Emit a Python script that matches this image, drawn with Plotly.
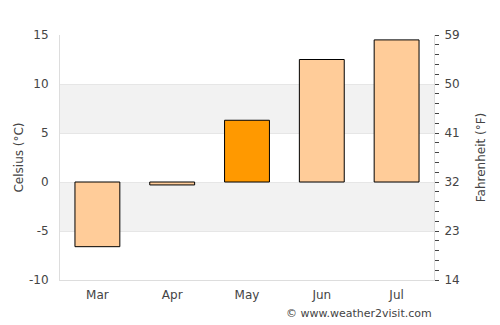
import plotly.graph_objects as go

months = ["Mar", "Apr", "May", "Jun", "Jul"]
celsius = [-6.6, -0.3, 6.3, 12.5, 14.5]
colors = ["#ffcc99", "#ffcc99", "#ff9900", "#ffcc99", "#ffcc99"]
c_ticks = [-10, -5, 0, 5, 10, 15]
f_ticks = [14, 23, 32, 41, 50, 59]
bands = [(-5, 0), (5, 10)]

fig = go.Figure()
fig.add_trace(go.Bar(x=months, y=celsius, marker=dict(color=colors, line=dict(color="black", width=1)),
                     width=0.6, showlegend=False, hoverinfo="skip"))
fig.add_trace(go.Scatter(x=months, y=[c * 9 / 5 + 32 for c in celsius], yaxis="y2",
                         mode="markers", marker=dict(opacity=0), showlegend=False, hoverinfo="skip"))

for lo, hi in bands:
    fig.add_shape(type="rect", xref="paper", yref="y", x0=0, x1=1, y0=lo, y1=hi,
                  fillcolor="#f2f2f2", line_width=0, layer="below")

font = dict(family="DejaVu Sans", size=12, color="#444")
fig.update_layout(
    width=500, height=325,
    margin=dict(l=60, r=66, t=35, b=45),
    plot_bgcolor="white", paper_bgcolor="white",
    font=font,
    xaxis=dict(showgrid=False, zeroline=False, showline=True, linecolor="#ddd", tickfont=font,
               ticks="", range=[-0.5, 4.5], ticklabelstandoff=4),
    yaxis=dict(range=[-10, 15], tickvals=c_ticks, ticktext=[str(v) for v in c_ticks], showgrid=True,
               gridcolor="#e6e6e6", zeroline=False, showline=True, linecolor="#ddd",
               ticklabelstandoff=8,
               title=dict(text="Celsius (°C)", font=dict(family="DejaVu Sans", size=12, color="#444"), standoff=2),
               tickfont=font),
    yaxis2=dict(range=[14, 59], overlaying="y", side="right", tickvals=f_ticks,
                ticktext=[str(v) for v in f_ticks], showgrid=False, zeroline=False, showline=True,
                linecolor="#ddd", ticks="outside", ticklen=4, tickcolor="#444", ticklabelstandoff=3,
                minor=dict(tickvals=[14 + 1.8 * i for i in range(26)], ticks="outside", ticklen=4, tickcolor="#444"),
                title=dict(text="Fahrenheit (°F)", font=dict(family="DejaVu Sans", size=12, color="#444"), standoff=17),
                tickfont=font),
    annotations=[dict(text="© www.weather2visit.com", xref="paper", yref="paper", x=1, y=0,
                      xanchor="right", yanchor="top", yshift=-25, showarrow=False,
                      font=dict(family="DejaVu Sans", size=11, color="#444"))],
)

fig.write_html("out.html")
